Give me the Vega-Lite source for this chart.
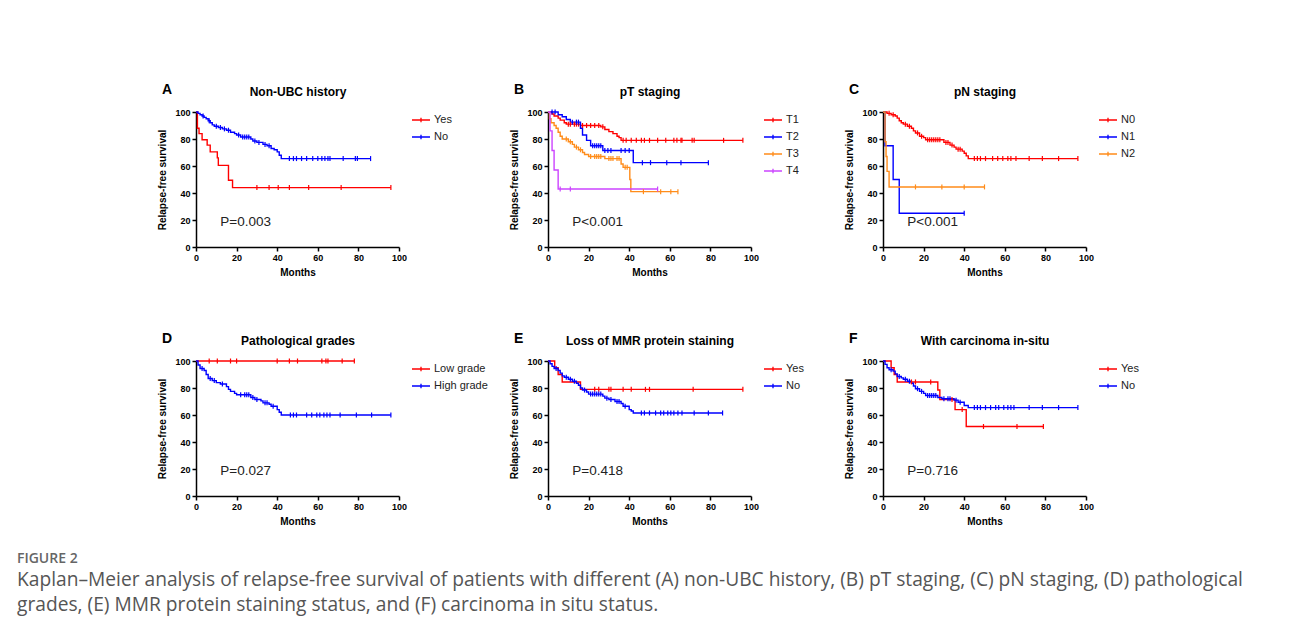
{
  "$schema": "https://vega.github.io/schema/vega-lite/v6.json",
  "padding": {"left": 16, "top": 83, "right": 5, "bottom": 5},
  "background": "#ffffff",
  "config": {
    "font": "Liberation Sans",
    "view": {"stroke": null},
    "axis": {"domainColor": "#000", "domainWidth": 1.5, "tickColor": "#000", "tickWidth": 1.5, "tickSize": 4, "labelFont": "Liberation Sans", "labelFontWeight": "bold", "labelFontSize": 9, "labelColor": "#000", "titleFont": "Liberation Sans", "titleFontWeight": "bold", "titleFontSize": 10, "titleColor": "#000", "grid": false, "labelPadding": 2, "labelFlush": false, "labelOverlap": false},
    "axisY": {"titlePadding": 7, "values": [0, 20, 40, 60, 80, 100], "title": "Relapse-free survival"},
    "axisX": {"titlePadding": 5},
    "legend": {"orient": "none", "legendX": 219.5, "legendY": 2.5, "symbolType": "M-2.25,0L2.25,0M0,-0.55L0,0.55", "symbolSize": 64, "symbolStrokeWidth": 1.3, "labelOffset": 7.5, "labelFontSize": 11, "labelFont": "Liberation Sans", "labelColor": "#222", "rowPadding": 5, "padding": 0, "labelBaseline": "middle"},
    "title": {"fontSize": 14, "fontWeight": "bold", "anchor": "start", "frame": "bounds", "dx": 4, "dy": 16, "offset": 0, "color": "#000", "font": "Liberation Sans"}
  },
  "title": {"text": "FIGURE 2", "subtitle": ["Kaplan–Meier analysis of relapse-free survival of patients with different (A) non-UBC history, (B) pT staging, (C) pN staging, (D) pathological", "grades, (E) MMR protein staining status, and (F) carcinoma in situ status."], "orient": "bottom", "anchor": "start", "frame": "bounds", "dx": -141, "dy": 0, "offset": 26, "font": "Open Sans", "fontSize": 14, "fontWeight": 600, "color": "#666", "subtitleFont": "Open Sans", "subtitleFontSize": 19.2, "subtitleColor": "#555", "subtitleLineHeight": 25, "subtitlePadding": 5},
  "columns": 3,
  "bounds": "flush",
  "align": "each",
  "spacing": {"row": 114, "column": 0},
  "resolve": {"scale": {"color": "independent"}},
  "datasets": {
    "A": [
      {"g":"Yes","t":0,"s":100,"c":0},{"g":"Yes","t":0.7,"s":88,"c":0},{"g":"Yes","t":1.5,"s":84,"c":0},{"g":"Yes","t":3,"s":79.5,"c":0},{"g":"Yes","t":5.5,"s":75.5,"c":0},{"g":"Yes","t":7,"s":70.5,"c":0},{"g":"Yes","t":10.5,"s":66,"c":0},{"g":"Yes","t":11,"s":60.5,"c":0},{"g":"Yes","t":16,"s":49.5,"c":0},{"g":"Yes","t":18,"s":44,"c":0},{"g":"Yes","t":96,"s":44,"c":0},
      {"g":"Yes","t":30,"s":44,"c":1},{"g":"Yes","t":36,"s":44,"c":1},{"g":"Yes","t":40.5,"s":44,"c":1},{"g":"Yes","t":46,"s":44,"c":1},{"g":"Yes","t":55.5,"s":44,"c":1},{"g":"Yes","t":71.5,"s":44,"c":1},{"g":"Yes","t":96,"s":44,"c":1},
      {"g":"No","t":0,"s":100,"c":0},{"g":"No","t":1,"s":99,"c":0},{"g":"No","t":2,"s":98,"c":0},{"g":"No","t":3,"s":97,"c":0},{"g":"No","t":4,"s":96,"c":0},{"g":"No","t":5,"s":95,"c":0},{"g":"No","t":6,"s":93.5,"c":0},{"g":"No","t":7,"s":92,"c":0},{"g":"No","t":8,"s":90.5,"c":0},{"g":"No","t":9,"s":89.5,"c":0},{"g":"No","t":11,"s":88.5,"c":0},{"g":"No","t":13,"s":87.5,"c":0},{"g":"No","t":15,"s":86.5,"c":0},{"g":"No","t":17,"s":85,"c":0},{"g":"No","t":19,"s":84,"c":0},{"g":"No","t":20,"s":83,"c":0},{"g":"No","t":22,"s":81.5,"c":0},{"g":"No","t":27,"s":80,"c":0},{"g":"No","t":28,"s":78.5,"c":0},{"g":"No","t":30,"s":77.5,"c":0},{"g":"No","t":33,"s":76,"c":0},{"g":"No","t":35,"s":75,"c":0},{"g":"No","t":37,"s":73,"c":0},{"g":"No","t":38.5,"s":72,"c":0},{"g":"No","t":40,"s":70.5,"c":0},{"g":"No","t":41,"s":68,"c":0},{"g":"No","t":42,"s":65.5,"c":0},{"g":"No","t":86,"s":65.5,"c":0},
      {"g":"No","t":3.5,"s":97,"c":1},{"g":"No","t":6.5,"s":93.5,"c":1},{"g":"No","t":10,"s":89.5,"c":1},{"g":"No","t":12,"s":88.5,"c":1},{"g":"No","t":14,"s":87.5,"c":1},{"g":"No","t":16,"s":86.5,"c":1},{"g":"No","t":21,"s":83,"c":1},{"g":"No","t":23,"s":81.5,"c":1},{"g":"No","t":24,"s":81.5,"c":1},{"g":"No","t":25,"s":81.5,"c":1},{"g":"No","t":26,"s":81.5,"c":1},{"g":"No","t":29,"s":78.5,"c":1},{"g":"No","t":31,"s":77.5,"c":1},{"g":"No","t":34,"s":76,"c":1},{"g":"No","t":36,"s":75,"c":1},{"g":"No","t":46,"s":65.5,"c":1},{"g":"No","t":48,"s":65.5,"c":1},{"g":"No","t":49.5,"s":65.5,"c":1},{"g":"No","t":52,"s":65.5,"c":1},{"g":"No","t":54.5,"s":65.5,"c":1},{"g":"No","t":57.5,"s":65.5,"c":1},{"g":"No","t":60,"s":65.5,"c":1},{"g":"No","t":62,"s":65.5,"c":1},{"g":"No","t":63.5,"s":65.5,"c":1},{"g":"No","t":65,"s":65.5,"c":1},{"g":"No","t":66,"s":65.5,"c":1},{"g":"No","t":72.5,"s":65.5,"c":1},{"g":"No","t":78.5,"s":65.5,"c":1},{"g":"No","t":79.5,"s":65.5,"c":1},{"g":"No","t":86,"s":65.5,"c":1}
    ],
    "B": [
      {"g":"T1","t":0,"s":100,"c":0},{"g":"T1","t":2,"s":98.5,"c":0},{"g":"T1","t":3,"s":97,"c":0},{"g":"T1","t":5,"s":95.5,"c":0},{"g":"T1","t":6,"s":94,"c":0},{"g":"T1","t":8,"s":92,"c":0},{"g":"T1","t":9,"s":91,"c":0},{"g":"T1","t":16,"s":90,"c":0},{"g":"T1","t":26,"s":89,"c":0},{"g":"T1","t":28,"s":87,"c":0},{"g":"T1","t":30,"s":85.5,"c":0},{"g":"T1","t":32,"s":84,"c":0},{"g":"T1","t":34,"s":82,"c":0},{"g":"T1","t":35,"s":81,"c":0},{"g":"T1","t":36,"s":79,"c":0},{"g":"T1","t":96,"s":79,"c":0},
      {"g":"T1","t":10,"s":91,"c":1},{"g":"T1","t":11,"s":91,"c":1},{"g":"T1","t":13,"s":91,"c":1},{"g":"T1","t":14,"s":91,"c":1},{"g":"T1","t":15,"s":91,"c":1},{"g":"T1","t":17,"s":90,"c":1},{"g":"T1","t":19,"s":90,"c":1},{"g":"T1","t":21,"s":90,"c":1},{"g":"T1","t":23,"s":90,"c":1},{"g":"T1","t":25,"s":90,"c":1},{"g":"T1","t":27,"s":89,"c":1},{"g":"T1","t":37,"s":79,"c":1},{"g":"T1","t":38.5,"s":79,"c":1},{"g":"T1","t":41,"s":79,"c":1},{"g":"T1","t":43.5,"s":79,"c":1},{"g":"T1","t":46,"s":79,"c":1},{"g":"T1","t":47.5,"s":79,"c":1},{"g":"T1","t":50,"s":79,"c":1},{"g":"T1","t":54,"s":79,"c":1},{"g":"T1","t":58,"s":79,"c":1},{"g":"T1","t":62,"s":79,"c":1},{"g":"T1","t":63.5,"s":79,"c":1},{"g":"T1","t":65.5,"s":79,"c":1},{"g":"T1","t":66,"s":79,"c":1},{"g":"T1","t":71,"s":79,"c":1},{"g":"T1","t":72,"s":79,"c":1},{"g":"T1","t":86.5,"s":79,"c":1},{"g":"T1","t":96,"s":79,"c":1},
      {"g":"T2","t":0,"s":100,"c":0},{"g":"T2","t":5,"s":98,"c":0},{"g":"T2","t":7,"s":96.5,"c":0},{"g":"T2","t":9,"s":94.5,"c":0},{"g":"T2","t":11,"s":92.5,"c":0},{"g":"T2","t":16,"s":88,"c":0},{"g":"T2","t":17,"s":83,"c":0},{"g":"T2","t":19,"s":79,"c":0},{"g":"T2","t":21,"s":75,"c":0},{"g":"T2","t":27,"s":71.5,"c":0},{"g":"T2","t":42,"s":62.5,"c":0},{"g":"T2","t":79,"s":62.5,"c":0},
      {"g":"T2","t":2,"s":100,"c":1},{"g":"T2","t":3.5,"s":100,"c":1},{"g":"T2","t":12,"s":92.5,"c":1},{"g":"T2","t":14,"s":92.5,"c":1},{"g":"T2","t":15,"s":92.5,"c":1},{"g":"T2","t":22,"s":75,"c":1},{"g":"T2","t":23,"s":75,"c":1},{"g":"T2","t":24,"s":75,"c":1},{"g":"T2","t":25,"s":75,"c":1},{"g":"T2","t":26,"s":75,"c":1},{"g":"T2","t":28,"s":71.5,"c":1},{"g":"T2","t":29.5,"s":71.5,"c":1},{"g":"T2","t":31,"s":71.5,"c":1},{"g":"T2","t":36,"s":71.5,"c":1},{"g":"T2","t":38,"s":71.5,"c":1},{"g":"T2","t":40,"s":71.5,"c":1},{"g":"T2","t":46.5,"s":62.5,"c":1},{"g":"T2","t":50.5,"s":62.5,"c":1},{"g":"T2","t":58.5,"s":62.5,"c":1},{"g":"T2","t":65.5,"s":62.5,"c":1},{"g":"T2","t":79,"s":62.5,"c":1},
      {"g":"T3","t":0,"s":100,"c":0},{"g":"T3","t":0.7,"s":95,"c":0},{"g":"T3","t":1.5,"s":92,"c":0},{"g":"T3","t":3,"s":90,"c":0},{"g":"T3","t":4,"s":88,"c":0},{"g":"T3","t":5,"s":85,"c":0},{"g":"T3","t":6,"s":82,"c":0},{"g":"T3","t":7,"s":80,"c":0},{"g":"T3","t":10,"s":78,"c":0},{"g":"T3","t":12,"s":76,"c":0},{"g":"T3","t":13,"s":74,"c":0},{"g":"T3","t":15,"s":72,"c":0},{"g":"T3","t":17,"s":70,"c":0},{"g":"T3","t":18,"s":68.5,"c":0},{"g":"T3","t":20,"s":67,"c":0},{"g":"T3","t":28,"s":65.5,"c":0},{"g":"T3","t":36,"s":61.5,"c":0},{"g":"T3","t":37,"s":59,"c":0},{"g":"T3","t":40.3,"s":50,"c":0},{"g":"T3","t":40.8,"s":41,"c":0},{"g":"T3","t":64,"s":41,"c":0},
      {"g":"T3","t":9,"s":80,"c":1},{"g":"T3","t":11,"s":78,"c":1},{"g":"T3","t":14,"s":74,"c":1},{"g":"T3","t":16,"s":72,"c":1},{"g":"T3","t":21,"s":67,"c":1},{"g":"T3","t":23,"s":67,"c":1},{"g":"T3","t":24,"s":67,"c":1},{"g":"T3","t":25,"s":67,"c":1},{"g":"T3","t":26,"s":67,"c":1},{"g":"T3","t":30,"s":65.5,"c":1},{"g":"T3","t":31,"s":65.5,"c":1},{"g":"T3","t":32,"s":65.5,"c":1},{"g":"T3","t":34,"s":65.5,"c":1},{"g":"T3","t":35,"s":65.5,"c":1},{"g":"T3","t":38,"s":59,"c":1},{"g":"T3","t":39,"s":59,"c":1},{"g":"T3","t":47,"s":41,"c":1},{"g":"T3","t":55.5,"s":41,"c":1},{"g":"T3","t":60.5,"s":41,"c":1},{"g":"T3","t":64,"s":41,"c":1},
      {"g":"T4","t":0,"s":100,"c":0},{"g":"T4","t":1,"s":86,"c":0},{"g":"T4","t":2,"s":71.5,"c":0},{"g":"T4","t":3,"s":57,"c":0},{"g":"T4","t":5,"s":43,"c":0},{"g":"T4","t":54,"s":43,"c":0},
      {"g":"T4","t":6,"s":43,"c":1},{"g":"T4","t":11,"s":43,"c":1},{"g":"T4","t":54,"s":43,"c":1}
    ],
    "C": [
      {"g":"N0","t":0,"s":100,"c":0},{"g":"N0","t":2,"s":99,"c":0},{"g":"N0","t":4,"s":98,"c":0},{"g":"N0","t":6,"s":97,"c":0},{"g":"N0","t":7,"s":95.5,"c":0},{"g":"N0","t":8,"s":93.5,"c":0},{"g":"N0","t":9,"s":92,"c":0},{"g":"N0","t":10,"s":91,"c":0},{"g":"N0","t":12,"s":89.5,"c":0},{"g":"N0","t":14,"s":88,"c":0},{"g":"N0","t":15,"s":86,"c":0},{"g":"N0","t":16,"s":84.5,"c":0},{"g":"N0","t":18,"s":82,"c":0},{"g":"N0","t":20,"s":81,"c":0},{"g":"N0","t":21,"s":79.5,"c":0},{"g":"N0","t":30,"s":77.5,"c":0},{"g":"N0","t":33,"s":75.5,"c":0},{"g":"N0","t":35,"s":74,"c":0},{"g":"N0","t":36,"s":72.5,"c":0},{"g":"N0","t":39,"s":71,"c":0},{"g":"N0","t":40,"s":69.5,"c":0},{"g":"N0","t":41,"s":67.5,"c":0},{"g":"N0","t":42,"s":65.5,"c":0},{"g":"N0","t":96,"s":65.5,"c":0},
      {"g":"N0","t":3,"s":99,"c":1},{"g":"N0","t":5,"s":98,"c":1},{"g":"N0","t":11,"s":91,"c":1},{"g":"N0","t":13,"s":89.5,"c":1},{"g":"N0","t":17,"s":84.5,"c":1},{"g":"N0","t":19,"s":82,"c":1},{"g":"N0","t":22,"s":79.5,"c":1},{"g":"N0","t":23,"s":79.5,"c":1},{"g":"N0","t":24,"s":79.5,"c":1},{"g":"N0","t":25,"s":79.5,"c":1},{"g":"N0","t":26,"s":79.5,"c":1},{"g":"N0","t":27,"s":79.5,"c":1},{"g":"N0","t":28,"s":79.5,"c":1},{"g":"N0","t":31,"s":77.5,"c":1},{"g":"N0","t":32,"s":77.5,"c":1},{"g":"N0","t":34,"s":75.5,"c":1},{"g":"N0","t":37,"s":72.5,"c":1},{"g":"N0","t":38,"s":72.5,"c":1},{"g":"N0","t":45,"s":65.5,"c":1},{"g":"N0","t":46.5,"s":65.5,"c":1},{"g":"N0","t":48,"s":65.5,"c":1},{"g":"N0","t":50.5,"s":65.5,"c":1},{"g":"N0","t":54,"s":65.5,"c":1},{"g":"N0","t":56.5,"s":65.5,"c":1},{"g":"N0","t":59,"s":65.5,"c":1},{"g":"N0","t":61.5,"s":65.5,"c":1},{"g":"N0","t":63,"s":65.5,"c":1},{"g":"N0","t":65.5,"s":65.5,"c":1},{"g":"N0","t":72,"s":65.5,"c":1},{"g":"N0","t":78.5,"s":65.5,"c":1},{"g":"N0","t":86.5,"s":65.5,"c":1},{"g":"N0","t":96,"s":65.5,"c":1},
      {"g":"N1","t":0,"s":100,"c":0},{"g":"N1","t":1,"s":75,"c":0},{"g":"N1","t":5,"s":50,"c":0},{"g":"N1","t":8,"s":25,"c":0},{"g":"N1","t":40,"s":25,"c":0},
      {"g":"N1","t":40,"s":25,"c":1},
      {"g":"N2","t":0,"s":100,"c":0},{"g":"N2","t":1,"s":78,"c":0},{"g":"N2","t":1.5,"s":67,"c":0},{"g":"N2","t":2,"s":56,"c":0},{"g":"N2","t":3,"s":44.5,"c":0},{"g":"N2","t":50,"s":44.5,"c":0},
      {"g":"N2","t":16,"s":44.5,"c":1},{"g":"N2","t":29,"s":44.5,"c":1},{"g":"N2","t":40,"s":44.5,"c":1},{"g":"N2","t":50,"s":44.5,"c":1}
    ],
    "D": [
      {"g":"Low grade","t":0,"s":100,"c":0},{"g":"Low grade","t":78,"s":100,"c":0},
      {"g":"Low grade","t":6.5,"s":100,"c":1},{"g":"Low grade","t":10.5,"s":100,"c":1},{"g":"Low grade","t":17,"s":100,"c":1},{"g":"Low grade","t":20,"s":100,"c":1},{"g":"Low grade","t":40,"s":100,"c":1},{"g":"Low grade","t":46,"s":100,"c":1},{"g":"Low grade","t":50,"s":100,"c":1},{"g":"Low grade","t":62,"s":100,"c":1},{"g":"Low grade","t":64,"s":100,"c":1},{"g":"Low grade","t":65,"s":100,"c":1},{"g":"Low grade","t":72,"s":100,"c":1},{"g":"Low grade","t":78,"s":100,"c":1},
      {"g":"High grade","t":0,"s":100,"c":0},{"g":"High grade","t":1,"s":97,"c":0},{"g":"High grade","t":2,"s":94.5,"c":0},{"g":"High grade","t":4,"s":93,"c":0},{"g":"High grade","t":5,"s":90,"c":0},{"g":"High grade","t":6,"s":87,"c":0},{"g":"High grade","t":8,"s":85.5,"c":0},{"g":"High grade","t":10,"s":84,"c":0},{"g":"High grade","t":12,"s":83,"c":0},{"g":"High grade","t":15,"s":81,"c":0},{"g":"High grade","t":16,"s":79,"c":0},{"g":"High grade","t":17,"s":77.5,"c":0},{"g":"High grade","t":19,"s":76,"c":0},{"g":"High grade","t":20,"s":75,"c":0},{"g":"High grade","t":27,"s":73,"c":0},{"g":"High grade","t":29,"s":71.5,"c":0},{"g":"High grade","t":32,"s":70.5,"c":0},{"g":"High grade","t":33,"s":69,"c":0},{"g":"High grade","t":36,"s":68,"c":0},{"g":"High grade","t":37,"s":66.5,"c":0},{"g":"High grade","t":40,"s":64,"c":0},{"g":"High grade","t":41,"s":62,"c":0},{"g":"High grade","t":42,"s":60,"c":0},{"g":"High grade","t":96,"s":60,"c":0},
      {"g":"High grade","t":3,"s":94.5,"c":1},{"g":"High grade","t":7,"s":87,"c":1},{"g":"High grade","t":9,"s":85.5,"c":1},{"g":"High grade","t":13,"s":83,"c":1},{"g":"High grade","t":22,"s":75,"c":1},{"g":"High grade","t":24,"s":75,"c":1},{"g":"High grade","t":25,"s":75,"c":1},{"g":"High grade","t":26,"s":75,"c":1},{"g":"High grade","t":28,"s":73,"c":1},{"g":"High grade","t":30,"s":71.5,"c":1},{"g":"High grade","t":34,"s":69,"c":1},{"g":"High grade","t":35,"s":69,"c":1},{"g":"High grade","t":38,"s":66.5,"c":1},{"g":"High grade","t":46.5,"s":60,"c":1},{"g":"High grade","t":48,"s":60,"c":1},{"g":"High grade","t":49.5,"s":60,"c":1},{"g":"High grade","t":54.5,"s":60,"c":1},{"g":"High grade","t":57,"s":60,"c":1},{"g":"High grade","t":59.5,"s":60,"c":1},{"g":"High grade","t":61,"s":60,"c":1},{"g":"High grade","t":63,"s":60,"c":1},{"g":"High grade","t":64.5,"s":60,"c":1},{"g":"High grade","t":66,"s":60,"c":1},{"g":"High grade","t":71,"s":60,"c":1},{"g":"High grade","t":79,"s":60,"c":1},{"g":"High grade","t":86.5,"s":60,"c":1},{"g":"High grade","t":96,"s":60,"c":1}
    ],
    "E": [
      {"g":"Yes","t":0,"s":100,"c":0},{"g":"Yes","t":3.3,"s":95,"c":0},{"g":"Yes","t":5,"s":90,"c":0},{"g":"Yes","t":7,"s":84.5,"c":0},{"g":"Yes","t":16,"s":79,"c":0},{"g":"Yes","t":96,"s":79,"c":0},
      {"g":"Yes","t":23,"s":79,"c":1},{"g":"Yes","t":25,"s":79,"c":1},{"g":"Yes","t":30,"s":79,"c":1},{"g":"Yes","t":31,"s":79,"c":1},{"g":"Yes","t":37,"s":79,"c":1},{"g":"Yes","t":41,"s":79,"c":1},{"g":"Yes","t":48,"s":79,"c":1},{"g":"Yes","t":50,"s":79,"c":1},{"g":"Yes","t":71.5,"s":79,"c":1},{"g":"Yes","t":96,"s":79,"c":1},
      {"g":"No","t":0,"s":100,"c":0},{"g":"No","t":1,"s":98,"c":0},{"g":"No","t":2,"s":96,"c":0},{"g":"No","t":3,"s":94.5,"c":0},{"g":"No","t":5,"s":93,"c":0},{"g":"No","t":6,"s":91,"c":0},{"g":"No","t":7,"s":89,"c":0},{"g":"No","t":8,"s":88,"c":0},{"g":"No","t":10,"s":86.5,"c":0},{"g":"No","t":12,"s":85,"c":0},{"g":"No","t":14,"s":83.5,"c":0},{"g":"No","t":15,"s":82,"c":0},{"g":"No","t":16,"s":80,"c":0},{"g":"No","t":17,"s":78.5,"c":0},{"g":"No","t":19,"s":77,"c":0},{"g":"No","t":20,"s":75.5,"c":0},{"g":"No","t":27,"s":74,"c":0},{"g":"No","t":28,"s":72.5,"c":0},{"g":"No","t":30,"s":71.5,"c":0},{"g":"No","t":33,"s":70,"c":0},{"g":"No","t":36,"s":68.5,"c":0},{"g":"No","t":37,"s":66.5,"c":0},{"g":"No","t":40,"s":64,"c":0},{"g":"No","t":41,"s":63,"c":0},{"g":"No","t":42,"s":61.5,"c":0},{"g":"No","t":86,"s":61.5,"c":0},
      {"g":"No","t":4,"s":94.5,"c":1},{"g":"No","t":9,"s":88,"c":1},{"g":"No","t":11,"s":86.5,"c":1},{"g":"No","t":13,"s":85,"c":1},{"g":"No","t":18,"s":78.5,"c":1},{"g":"No","t":21,"s":75.5,"c":1},{"g":"No","t":22,"s":75.5,"c":1},{"g":"No","t":23,"s":75.5,"c":1},{"g":"No","t":24,"s":75.5,"c":1},{"g":"No","t":25,"s":75.5,"c":1},{"g":"No","t":26,"s":75.5,"c":1},{"g":"No","t":29,"s":72.5,"c":1},{"g":"No","t":31,"s":71.5,"c":1},{"g":"No","t":34,"s":70,"c":1},{"g":"No","t":35,"s":70,"c":1},{"g":"No","t":38,"s":66.5,"c":1},{"g":"No","t":46,"s":61.5,"c":1},{"g":"No","t":47.5,"s":61.5,"c":1},{"g":"No","t":50,"s":61.5,"c":1},{"g":"No","t":53,"s":61.5,"c":1},{"g":"No","t":55.5,"s":61.5,"c":1},{"g":"No","t":57,"s":61.5,"c":1},{"g":"No","t":59,"s":61.5,"c":1},{"g":"No","t":60.5,"s":61.5,"c":1},{"g":"No","t":62,"s":61.5,"c":1},{"g":"No","t":64,"s":61.5,"c":1},{"g":"No","t":66,"s":61.5,"c":1},{"g":"No","t":72,"s":61.5,"c":1},{"g":"No","t":79,"s":61.5,"c":1},{"g":"No","t":86,"s":61.5,"c":1}
    ],
    "F": [
      {"g":"Yes","t":0,"s":100,"c":0},{"g":"Yes","t":4,"s":95,"c":0},{"g":"Yes","t":5.5,"s":90,"c":0},{"g":"Yes","t":7,"s":84.5,"c":0},{"g":"Yes","t":27,"s":78.5,"c":0},{"g":"Yes","t":28,"s":71.5,"c":0},{"g":"Yes","t":35.5,"s":64,"c":0},{"g":"Yes","t":41,"s":51.5,"c":0},{"g":"Yes","t":79,"s":51.5,"c":0},
      {"g":"Yes","t":14,"s":84.5,"c":1},{"g":"Yes","t":16,"s":84.5,"c":1},{"g":"Yes","t":23.5,"s":84.5,"c":1},{"g":"Yes","t":34,"s":71.5,"c":1},{"g":"Yes","t":39,"s":64,"c":1},{"g":"Yes","t":49.5,"s":51.5,"c":1},{"g":"Yes","t":66,"s":51.5,"c":1},{"g":"Yes","t":79,"s":51.5,"c":1},
      {"g":"No","t":0,"s":100,"c":0},{"g":"No","t":1,"s":97.5,"c":0},{"g":"No","t":2,"s":95,"c":0},{"g":"No","t":3,"s":93.5,"c":0},{"g":"No","t":5,"s":92.5,"c":0},{"g":"No","t":6,"s":90.5,"c":0},{"g":"No","t":7,"s":88.5,"c":0},{"g":"No","t":9,"s":87.5,"c":0},{"g":"No","t":10,"s":86.5,"c":0},{"g":"No","t":12,"s":85,"c":0},{"g":"No","t":14,"s":83.5,"c":0},{"g":"No","t":15,"s":81.5,"c":0},{"g":"No","t":16,"s":79.5,"c":0},{"g":"No","t":18,"s":77.5,"c":0},{"g":"No","t":20,"s":76,"c":0},{"g":"No","t":21,"s":74.5,"c":0},{"g":"No","t":27,"s":73,"c":0},{"g":"No","t":29,"s":72,"c":0},{"g":"No","t":35,"s":71,"c":0},{"g":"No","t":37,"s":69.5,"c":0},{"g":"No","t":40,"s":67,"c":0},{"g":"No","t":42,"s":65.5,"c":0},{"g":"No","t":96,"s":65.5,"c":0},
      {"g":"No","t":4,"s":93.5,"c":1},{"g":"No","t":8,"s":88.5,"c":1},{"g":"No","t":11,"s":86.5,"c":1},{"g":"No","t":13,"s":85,"c":1},{"g":"No","t":17,"s":79.5,"c":1},{"g":"No","t":19,"s":77.5,"c":1},{"g":"No","t":22,"s":74.5,"c":1},{"g":"No","t":23,"s":74.5,"c":1},{"g":"No","t":24,"s":74.5,"c":1},{"g":"No","t":25,"s":74.5,"c":1},{"g":"No","t":26,"s":74.5,"c":1},{"g":"No","t":30,"s":72,"c":1},{"g":"No","t":32,"s":72,"c":1},{"g":"No","t":33,"s":72,"c":1},{"g":"No","t":36,"s":71,"c":1},{"g":"No","t":38,"s":69.5,"c":1},{"g":"No","t":45,"s":65.5,"c":1},{"g":"No","t":46.5,"s":65.5,"c":1},{"g":"No","t":48,"s":65.5,"c":1},{"g":"No","t":50.5,"s":65.5,"c":1},{"g":"No","t":53,"s":65.5,"c":1},{"g":"No","t":55.5,"s":65.5,"c":1},{"g":"No","t":57,"s":65.5,"c":1},{"g":"No","t":59.5,"s":65.5,"c":1},{"g":"No","t":61.5,"s":65.5,"c":1},{"g":"No","t":63,"s":65.5,"c":1},{"g":"No","t":64.5,"s":65.5,"c":1},{"g":"No","t":72,"s":65.5,"c":1},{"g":"No","t":78.5,"s":65.5,"c":1},{"g":"No","t":86.5,"s":65.5,"c":1},{"g":"No","t":96,"s":65.5,"c":1}
    ]
  },
  "concat": [
    {"width": 352, "height": 135, "title": {"text": "A"}, "data": {"name": "A"},
     "layer": [
      {"transform": [{"filter": "datum.c == 0"}], "mark": {"type": "line", "interpolate": "step-after", "strokeWidth": 1.4},
       "encoding": {"x": {"field": "t", "type": "quantitative", "scale": {"domain": [0, 100], "range": [0, 203], "nice": false}, "axis": {"title": "Months", "values": [0, 20, 40, 60, 80, 100]}},
        "y": {"field": "s", "type": "quantitative", "scale": {"domain": [0, 100], "nice": false}, "axis": {"title": "Relapse-free survival", "values": [0, 20, 40, 60, 80, 100]}},
        "color": {"field": "g", "type": "nominal", "scale": {"domain": ["Yes", "No"], "range": ["#FF0000", "#0000FF"]}, "legend": {"title": null}}}},
      {"transform": [{"filter": "datum.c == 1"}], "mark": {"type": "point", "shape": "M0,-1L0,1", "filled": false, "size": 25, "strokeWidth": 1.2, "opacity": 1},
       "encoding": {"x": {"field": "t", "type": "quantitative", "axis": null}, "y": {"field": "s", "type": "quantitative", "axis": {"title": "Relapse-free survival", "values": [0, 20, 40, 60, 80, 100]}}, "color": {"field": "g", "type": "nominal"}}},
      {"data": {"values": [{"p": "P=0.003"}]}, "mark": {"type": "text", "align": "left", "baseline": "middle", "fontSize": 13.5, "color": "#222"},
       "encoding": {"x": {"datum": 12, "axis": {"orient": "top", "title": "Non-UBC history", "domain": false, "ticks": false, "labels": false, "titleFontSize": 12, "titlePadding": 14}}, "y": {"datum": 18.5, "axis": {"title": "Relapse-free survival", "values": [0, 20, 40, 60, 80, 100]}}, "text": {"field": "p"}}}
     ],
     "resolve": {"axis": {"x": "independent"}}},
    {"width": 335, "height": 135, "title": {"text": "B"}, "data": {"name": "B"},
     "layer": [
      {"transform": [{"filter": "datum.c == 0"}], "mark": {"type": "line", "interpolate": "step-after", "strokeWidth": 1.4},
       "encoding": {"x": {"field": "t", "type": "quantitative", "scale": {"domain": [0, 100], "range": [0, 203], "nice": false}, "axis": {"title": "Months", "values": [0, 20, 40, 60, 80, 100]}},
        "y": {"field": "s", "type": "quantitative", "scale": {"domain": [0, 100], "nice": false}, "axis": {"title": "Relapse-free survival", "values": [0, 20, 40, 60, 80, 100]}},
        "color": {"field": "g", "type": "nominal", "scale": {"domain": ["T1", "T2", "T3", "T4"], "range": ["#FF0000", "#0000FF", "#FF8C1A", "#CC44FF"]}, "legend": {"title": null}}}},
      {"transform": [{"filter": "datum.c == 1"}], "mark": {"type": "point", "shape": "M0,-1L0,1", "filled": false, "size": 25, "strokeWidth": 1.2, "opacity": 1},
       "encoding": {"x": {"field": "t", "type": "quantitative", "axis": null}, "y": {"field": "s", "type": "quantitative", "axis": {"title": "Relapse-free survival", "values": [0, 20, 40, 60, 80, 100]}}, "color": {"field": "g", "type": "nominal"}}},
      {"data": {"values": [{"p": "P<0.001"}]}, "mark": {"type": "text", "align": "left", "baseline": "middle", "fontSize": 13.5, "color": "#222"},
       "encoding": {"x": {"datum": 12, "axis": {"orient": "top", "title": "pT staging", "domain": false, "ticks": false, "labels": false, "titleFontSize": 12, "titlePadding": 14}}, "y": {"datum": 18.5, "axis": {"title": "Relapse-free survival", "values": [0, 20, 40, 60, 80, 100]}}, "text": {"field": "p"}}}
     ],
     "resolve": {"axis": {"x": "independent"}}},
    {"width": 203, "height": 135, "title": {"text": "C"}, "data": {"name": "C"},
     "layer": [
      {"transform": [{"filter": "datum.c == 0"}], "mark": {"type": "line", "interpolate": "step-after", "strokeWidth": 1.4},
       "encoding": {"x": {"field": "t", "type": "quantitative", "scale": {"domain": [0, 100], "range": [0, 203], "nice": false}, "axis": {"title": "Months", "values": [0, 20, 40, 60, 80, 100]}},
        "y": {"field": "s", "type": "quantitative", "scale": {"domain": [0, 100], "nice": false}, "axis": {"title": "Relapse-free survival", "values": [0, 20, 40, 60, 80, 100]}},
        "color": {"field": "g", "type": "nominal", "scale": {"domain": ["N0", "N1", "N2"], "range": ["#FF0000", "#0000FF", "#FF8C1A"]}, "legend": {"title": null}}}},
      {"transform": [{"filter": "datum.c == 1"}], "mark": {"type": "point", "shape": "M0,-1L0,1", "filled": false, "size": 25, "strokeWidth": 1.2, "opacity": 1},
       "encoding": {"x": {"field": "t", "type": "quantitative", "axis": null}, "y": {"field": "s", "type": "quantitative", "axis": {"title": "Relapse-free survival", "values": [0, 20, 40, 60, 80, 100]}}, "color": {"field": "g", "type": "nominal"}}},
      {"data": {"values": [{"p": "P<0.001"}]}, "mark": {"type": "text", "align": "left", "baseline": "middle", "fontSize": 13.5, "color": "#222"},
       "encoding": {"x": {"datum": 12, "axis": {"orient": "top", "title": "pN staging", "domain": false, "ticks": false, "labels": false, "titleFontSize": 12, "titlePadding": 14}}, "y": {"datum": 18.5, "axis": {"title": "Relapse-free survival", "values": [0, 20, 40, 60, 80, 100]}}, "text": {"field": "p"}}}
     ],
     "resolve": {"axis": {"x": "independent"}}},
    {"width": 352, "height": 135, "title": {"text": "D"}, "data": {"name": "D"},
     "layer": [
      {"transform": [{"filter": "datum.c == 0"}], "mark": {"type": "line", "interpolate": "step-after", "strokeWidth": 1.4},
       "encoding": {"x": {"field": "t", "type": "quantitative", "scale": {"domain": [0, 100], "range": [0, 203], "nice": false}, "axis": {"title": "Months", "values": [0, 20, 40, 60, 80, 100]}},
        "y": {"field": "s", "type": "quantitative", "scale": {"domain": [0, 100], "nice": false}, "axis": {"title": "Relapse-free survival", "values": [0, 20, 40, 60, 80, 100]}},
        "color": {"field": "g", "type": "nominal", "scale": {"domain": ["Low grade", "High grade"], "range": ["#FF0000", "#0000FF"]}, "legend": {"title": null}}}},
      {"transform": [{"filter": "datum.c == 1"}], "mark": {"type": "point", "shape": "M0,-1L0,1", "filled": false, "size": 25, "strokeWidth": 1.2, "opacity": 1},
       "encoding": {"x": {"field": "t", "type": "quantitative", "axis": null}, "y": {"field": "s", "type": "quantitative", "axis": {"title": "Relapse-free survival", "values": [0, 20, 40, 60, 80, 100]}}, "color": {"field": "g", "type": "nominal"}}},
      {"data": {"values": [{"p": "P=0.027"}]}, "mark": {"type": "text", "align": "left", "baseline": "middle", "fontSize": 13.5, "color": "#222"},
       "encoding": {"x": {"datum": 12, "axis": {"orient": "top", "title": "Pathological grades", "domain": false, "ticks": false, "labels": false, "titleFontSize": 12, "titlePadding": 14}}, "y": {"datum": 18.5, "axis": {"title": "Relapse-free survival", "values": [0, 20, 40, 60, 80, 100]}}, "text": {"field": "p"}}}
     ],
     "resolve": {"axis": {"x": "independent"}}},
    {"width": 335, "height": 135, "title": {"text": "E"}, "data": {"name": "E"},
     "layer": [
      {"transform": [{"filter": "datum.c == 0"}], "mark": {"type": "line", "interpolate": "step-after", "strokeWidth": 1.4},
       "encoding": {"x": {"field": "t", "type": "quantitative", "scale": {"domain": [0, 100], "range": [0, 203], "nice": false}, "axis": {"title": "Months", "values": [0, 20, 40, 60, 80, 100]}},
        "y": {"field": "s", "type": "quantitative", "scale": {"domain": [0, 100], "nice": false}, "axis": {"title": "Relapse-free survival", "values": [0, 20, 40, 60, 80, 100]}},
        "color": {"field": "g", "type": "nominal", "scale": {"domain": ["Yes", "No"], "range": ["#FF0000", "#0000FF"]}, "legend": {"title": null}}}},
      {"transform": [{"filter": "datum.c == 1"}], "mark": {"type": "point", "shape": "M0,-1L0,1", "filled": false, "size": 25, "strokeWidth": 1.2, "opacity": 1},
       "encoding": {"x": {"field": "t", "type": "quantitative", "axis": null}, "y": {"field": "s", "type": "quantitative", "axis": {"title": "Relapse-free survival", "values": [0, 20, 40, 60, 80, 100]}}, "color": {"field": "g", "type": "nominal"}}},
      {"data": {"values": [{"p": "P=0.418"}]}, "mark": {"type": "text", "align": "left", "baseline": "middle", "fontSize": 13.5, "color": "#222"},
       "encoding": {"x": {"datum": 12, "axis": {"orient": "top", "title": "Loss of MMR protein staining", "domain": false, "ticks": false, "labels": false, "titleFontSize": 12, "titlePadding": 14}}, "y": {"datum": 18.5, "axis": {"title": "Relapse-free survival", "values": [0, 20, 40, 60, 80, 100]}}, "text": {"field": "p"}}}
     ],
     "resolve": {"axis": {"x": "independent"}}},
    {"width": 203, "height": 135, "title": {"text": "F"}, "data": {"name": "F"},
     "layer": [
      {"transform": [{"filter": "datum.c == 0"}], "mark": {"type": "line", "interpolate": "step-after", "strokeWidth": 1.4},
       "encoding": {"x": {"field": "t", "type": "quantitative", "scale": {"domain": [0, 100], "range": [0, 203], "nice": false}, "axis": {"title": "Months", "values": [0, 20, 40, 60, 80, 100]}},
        "y": {"field": "s", "type": "quantitative", "scale": {"domain": [0, 100], "nice": false}, "axis": {"title": "Relapse-free survival", "values": [0, 20, 40, 60, 80, 100]}},
        "color": {"field": "g", "type": "nominal", "scale": {"domain": ["Yes", "No"], "range": ["#FF0000", "#0000FF"]}, "legend": {"title": null}}}},
      {"transform": [{"filter": "datum.c == 1"}], "mark": {"type": "point", "shape": "M0,-1L0,1", "filled": false, "size": 25, "strokeWidth": 1.2, "opacity": 1},
       "encoding": {"x": {"field": "t", "type": "quantitative", "axis": null}, "y": {"field": "s", "type": "quantitative", "axis": {"title": "Relapse-free survival", "values": [0, 20, 40, 60, 80, 100]}}, "color": {"field": "g", "type": "nominal"}}},
      {"data": {"values": [{"p": "P=0.716"}]}, "mark": {"type": "text", "align": "left", "baseline": "middle", "fontSize": 13.5, "color": "#222"},
       "encoding": {"x": {"datum": 12, "axis": {"orient": "top", "title": "With carcinoma in-situ", "domain": false, "ticks": false, "labels": false, "titleFontSize": 12, "titlePadding": 14}}, "y": {"datum": 18.5, "axis": {"title": "Relapse-free survival", "values": [0, 20, 40, 60, 80, 100]}}, "text": {"field": "p"}}}
     ],
     "resolve": {"axis": {"x": "independent"}}}
  ]
}
